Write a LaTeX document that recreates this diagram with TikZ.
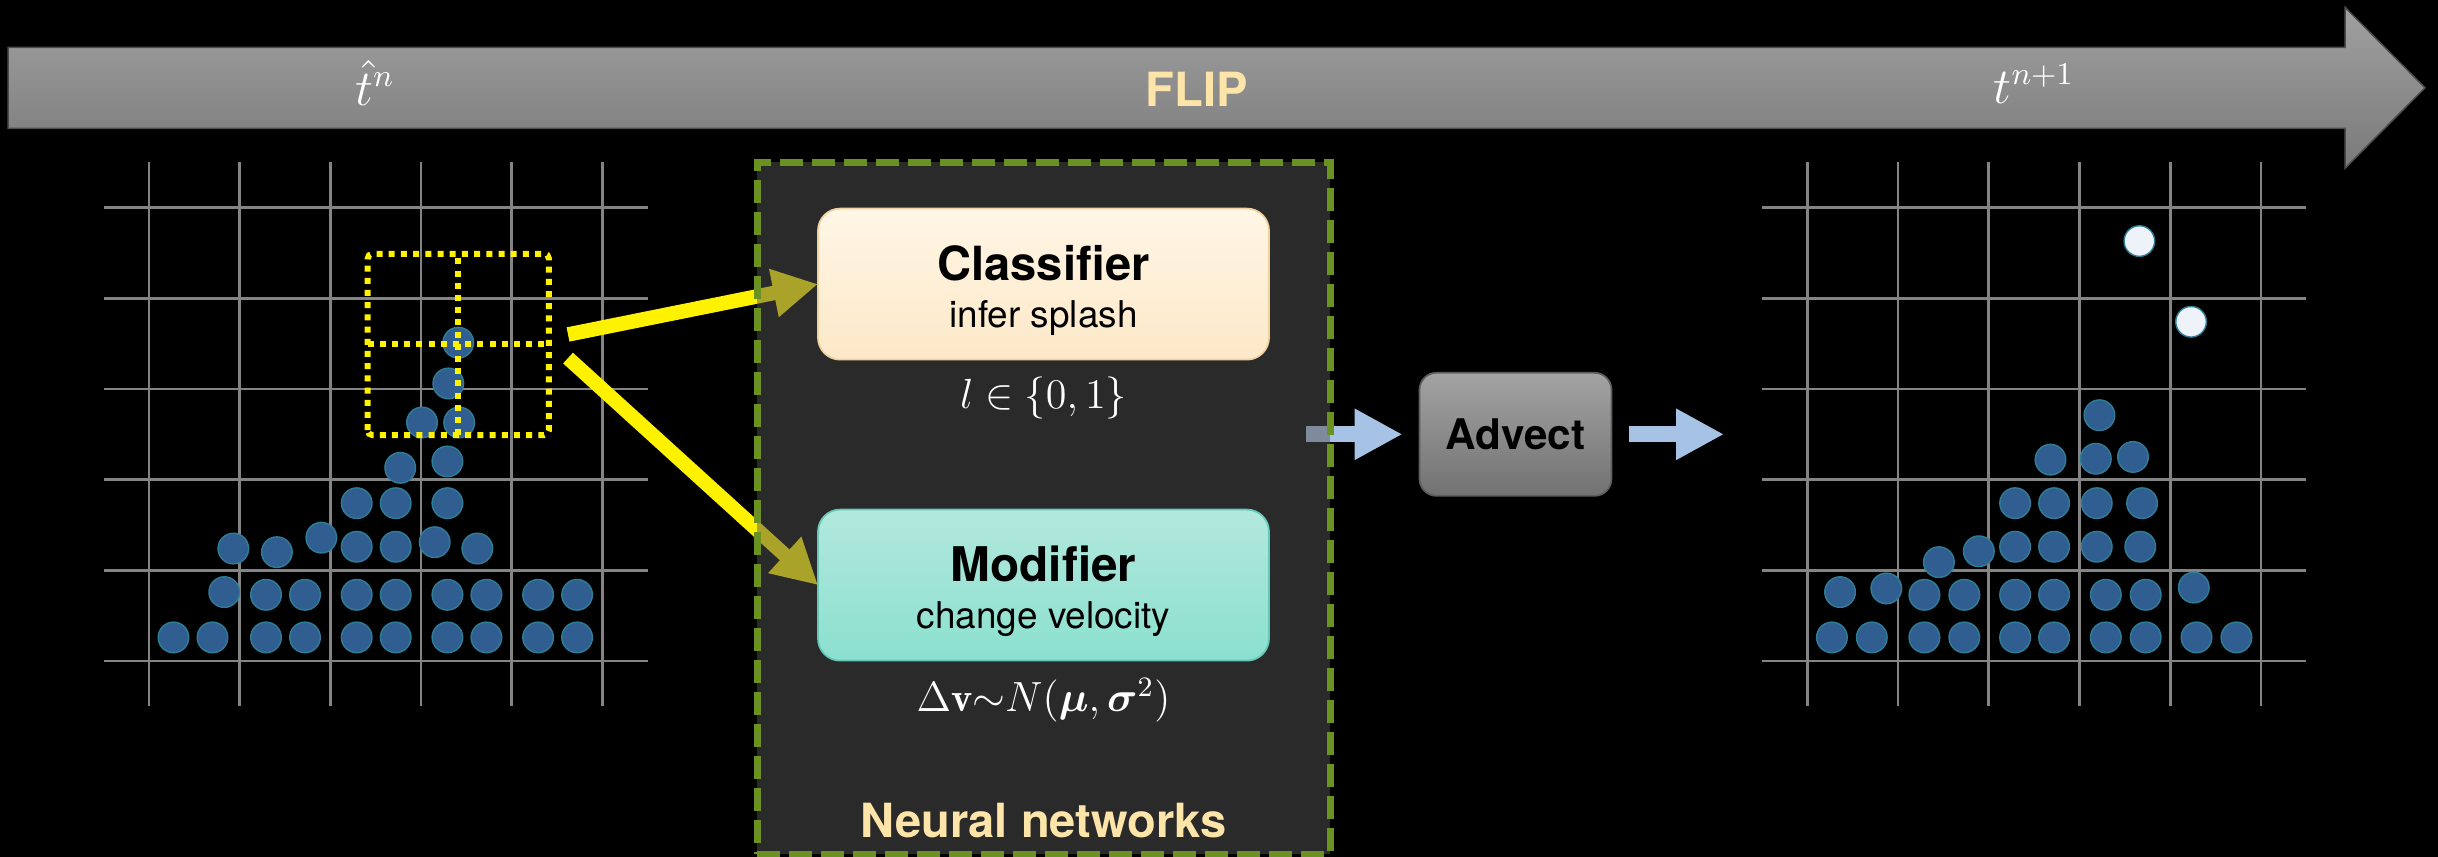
\documentclass[tikz,border=0pt]{standalone}
\usepackage{amsmath,amssymb}
\usepackage{fontspec}
\setsansfont{TeX Gyre Heros}
\usepackage{xcolor}
\usetikzlibrary{positioning,arrows.meta}

\definecolor{gridgray}{RGB}{132,132,132}
\definecolor{partblue}{RGB}{49,94,145}
\definecolor{partedge}{RGB}{46,125,150}
\definecolor{splashwhite}{RGB}{238,243,250}
\definecolor{nnolive}{RGB}{107,145,35}
\definecolor{nnfill}{RGB}{85,85,85}
\definecolor{flipcream}{RGB}{253,228,168}
\definecolor{clftop}{RGB}{255,246,230}
\definecolor{clfbot}{RGB}{253,232,200}
\definecolor{clfedge}{RGB}{238,210,160}
\definecolor{modtop}{RGB}{178,232,221}
\definecolor{modbot}{RGB}{139,224,207}
\definecolor{modedge}{RGB}{100,200,185}
\definecolor{advtop}{RGB}{163,163,163}
\definecolor{advbot}{RGB}{114,114,114}
\definecolor{advedge}{RGB}{94,94,94}
\definecolor{flowblue}{RGB}{166,195,230}
\definecolor{bartop}{RGB}{160,160,160}
\definecolor{barbot}{RGB}{122,122,122}

\pgfdeclarelayer{back}
\pgfdeclarelayer{mid}
\pgfsetlayers{back,mid,main}

\tikzset{
  gridline/.style={draw=gridgray, line width=0.027cm},
  particle/.style={fill=partblue, draw=partedge, line width=0.4pt},
  splashed/.style={fill=splashwhite, draw=partedge, line width=0.4pt},
  splashbox/.style={draw=yellow, line width=0.06cm, dash pattern=on 0.06cm off 0.062cm},
  feed/.style={draw=yellow, line width=0.145cm, -{Triangle[length=0.45cm,width=0.46cm]}},
  flow/.style={draw=flowblue, line width=0.16cm, -{Triangle[length=0.48cm,width=0.48cm]}},
  nnbox/.style={fill=nnfill, fill opacity=0.5, draw=nnolive, line width=0.07cm,
    dash pattern=on 0.23cm off 0.09cm, minimum width=5.73cm, minimum height=6.92cm, outer sep=0pt},
  netbox/.style={rounded corners=0.22cm, minimum width=4.51cm, minimum height=1.51cm,
    line width=0.5pt, outer sep=0pt, align=center, text=black,
    font=\sffamily\fontsize{10.5}{13.4}\selectfont},
  advbox/.style={rounded corners=0.17cm, minimum width=1.92cm, minimum height=1.23cm,
    top color=advtop, bottom color=advbot, draw=advedge, line width=0.5pt, outer sep=0pt,
    text=black, font=\sffamily\bfseries\fontsize{12}{14}\selectfont},
  mathlab/.style={text=white, inner sep=0pt, font=\fontsize{11.5}{13}\selectfont},
  steplab/.style={text=white, anchor=base, font=\fontsize{13.5}{15}\selectfont},
  title/.style={text=flipcream, font=\sffamily\bfseries\fontsize{13.4}{15}\selectfont}
}

\begin{document}
\begin{tikzpicture}
\useasboundingbox (0,0) rectangle (24.38,-8.57);

\begin{pgfonlayer}{back}
  \fill[black] (0,0) rectangle (24.38,-8.57);

  % grid at time t^n
  \begin{scope}[shift={(1.49,-6.61)}, x=0.907cm, y=0.907cm]
    \foreach \i in {0,...,5} {
      \draw[gridline] (\i,-0.5) -- (\i,5.5);
      \draw[gridline] (-0.5,\i) -- (5.5,\i);
    }
    \foreach \x/\y in {0.27/0.26,0.70/0.26,1.29/0.26,1.72/0.26,2.29/0.26,2.72/0.26,3.29/0.26,3.72/0.26,4.29/0.26,4.72/0.26,
        0.83/0.76,1.29/0.73,1.72/0.73,2.29/0.73,2.72/0.73,3.29/0.73,3.72/0.73,4.29/0.73,4.72/0.73,
        0.93/1.24,1.41/1.20,1.90/1.36,2.29/1.26,2.72/1.26,3.15/1.31,3.62/1.24,
        2.29/1.74,2.72/1.74,3.29/1.74,2.77/2.13,3.29/2.20,3.01/2.63,3.42/2.63,3.30/3.06,3.41/3.51}
      \draw[particle] (\x,\y) circle[radius=0.153cm];
    \coordinate (selA) at (4.62,3.60);
    \coordinate (selB) at (4.62,3.34);
  \end{scope}

  % grid at time t^{n+1}
  \begin{scope}[shift={(18.074,-6.61)}, x=0.907cm, y=0.907cm]
    \foreach \i in {0,...,5} {
      \draw[gridline] (\i,-0.5) -- (\i,5.5);
      \draw[gridline] (-0.5,\i) -- (5.5,\i);
    }
    \foreach \x/\y in {0.27/0.26,0.71/0.26,1.29/0.26,1.73/0.26,2.29/0.26,2.72/0.26,3.29/0.26,3.73/0.26,4.29/0.26,4.73/0.26,
        0.36/0.76,0.87/0.80,1.29/0.73,1.73/0.73,2.29/0.73,2.72/0.73,3.29/0.73,3.73/0.73,4.26/0.81,
        1.45/1.09,1.89/1.21,2.29/1.26,2.72/1.26,3.19/1.26,3.67/1.26,
        2.29/1.74,2.72/1.74,3.19/1.74,3.69/1.74,2.68/2.22,3.18/2.23,3.59/2.25,3.22/2.71}
      \draw[particle] (\x,\y) circle[radius=0.153cm];
    \foreach \x/\y in {3.66/4.63,4.23/3.74}
      \draw[splashed] (\x,\y) circle[radius=0.153cm];
  \end{scope}
\end{pgfonlayer}

% selected cells around the particle
\begin{scope}[shift={(1.49,-6.61)}, x=0.907cm, y=0.907cm]
  \draw[splashbox, rounded corners=0.05cm] (2.41,2.49) rectangle (4.41,4.49);
  \draw[splashbox] (3.41,2.49) -- (3.41,4.49);
  \draw[splashbox] (2.41,3.49) -- (4.41,3.49);
\end{scope}

% time bar
\shadedraw[top color=bartop, bottom color=barbot, draw=black!70, line width=0.015cm]
  (0.08,-0.473) -- (23.45,-0.473) -- (23.45,-0.073) -- (24.25,-0.878)
  -- (23.45,-1.683) -- (23.45,-1.283) -- (0.08,-1.283) -- cycle;
\node[steplab] (tn) at (3.75,-1.05) {$\hat{t}^n$};
\node[title, anchor=base] (flip) at (11.97,-1.06) {FLIP};
\node[steplab] (tn1) at (20.34,-1.03) {$t^{n+1}$};

\begin{pgfonlayer}{mid}
  \node[nnbox] (nn) at (10.435,-5.08) {};
\end{pgfonlayer}

\node[netbox, top color=clftop, bottom color=clfbot, draw=clfedge, below=0.466cm of nn.north] (clf)
  {\rule{0pt}{13.5pt}{\fontsize{13.4}{13.4}\selectfont\bfseries Classifier}\\ infer splash};
\node[mathlab, below=0.165cm of clf] (clfout) {$l\in\{0,1\}$};
\node[netbox, top color=modtop, bottom color=modbot, draw=modedge, below=1.5cm of clf] (mod)
  {\rule{0pt}{13.5pt}{\fontsize{13.6}{13.6}\selectfont\bfseries Modifier}\\ change velocity};
\node[mathlab, below=0.17cm of mod] (modout) {$\Delta\mathbf{v}{\sim}N(\boldsymbol{\mu},\boldsymbol{\sigma}^2)$};
\node[title, anchor=base] (nnlab) at ([yshift=0.17cm]nn.south) {Neural networks};

\node[advbox] (adv) at (15.155,-4.343) {Advect};

\begin{pgfonlayer}{back}
  \draw[feed] (selA) -- (clf.west);
  \draw[feed] (selB) -- (mod.west);
  \draw[flow] ([xshift=-0.24cm]nn.east |- adv.west) -- ([xshift=-0.17cm]adv.west);
\end{pgfonlayer}
\draw[flow] ([xshift=0.17cm]adv.east) -- ([xshift=1.125cm]adv.east);
\end{tikzpicture}
\end{document}
